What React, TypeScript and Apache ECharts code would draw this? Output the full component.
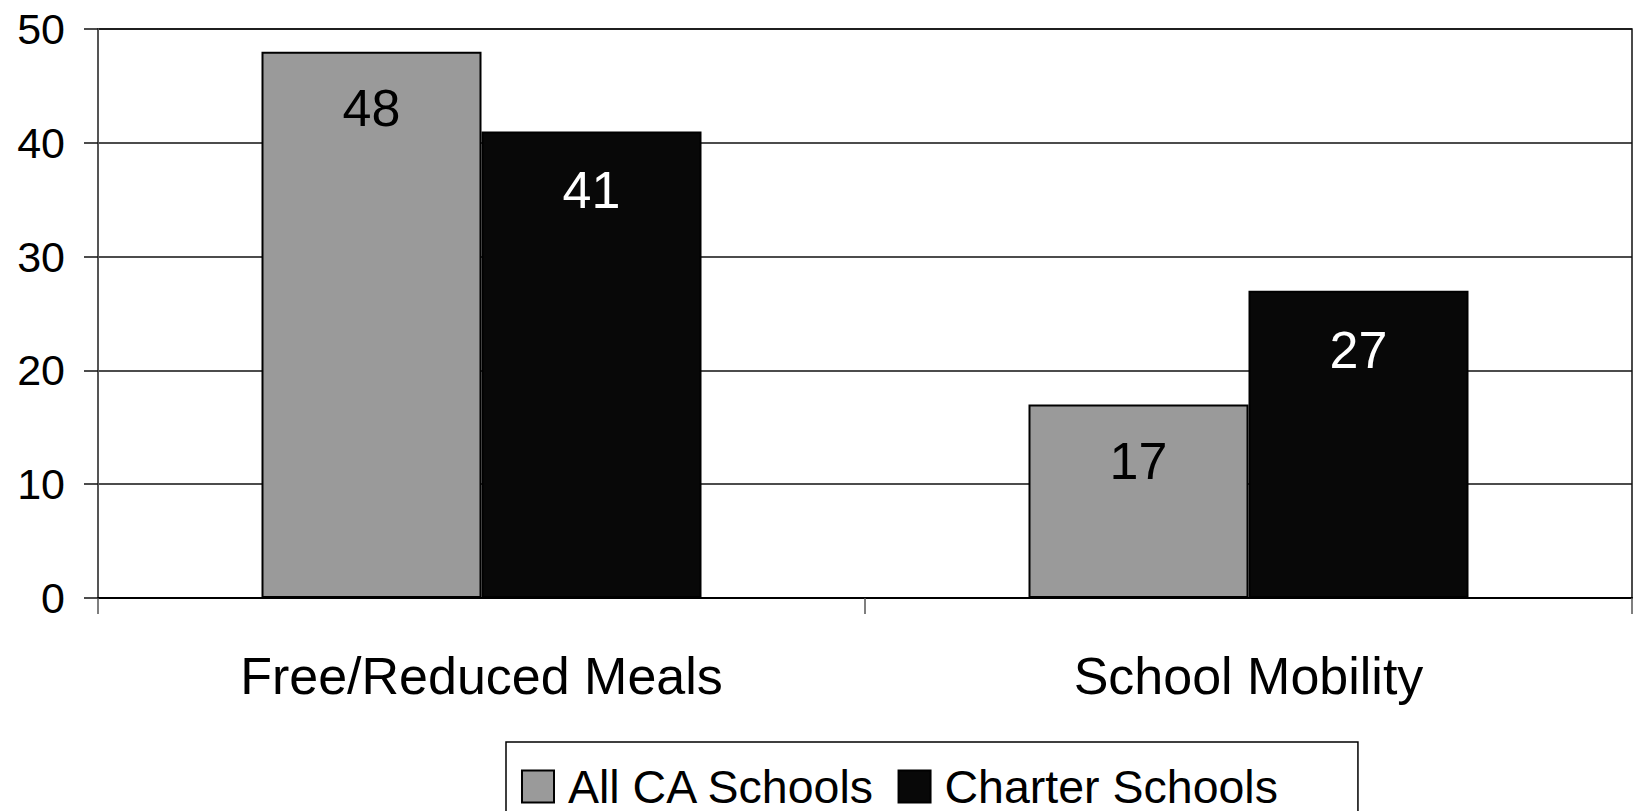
import React, { useEffect, useRef } from "react";
import * as echarts from "echarts";

const categories = ["Free/Reduced Meals", "School Mobility"];
const allCASchools = [48, 17];
const charterSchools = [41, 27];
const seriesNames = ["All CA Schools", "Charter Schools"];
const yTicks = { min: 0, max: 50, interval: 10 };

const FONT = "'Liberation Sans', Arial, sans-serif";

export default function App() {
  const ref = useRef<HTMLDivElement>(null);
  useEffect(() => {
    if (!ref.current) return;
    const chart = echarts.init(ref.current, null, { renderer: "svg" });
    chart.setOption({
      animation: false,
      backgroundColor: "#ffffff",
      textStyle: { fontFamily: FONT },
      grid: {
        left: 98,
        right: 2,
        top: 29,
        bottom: 213,
        show: true,
        borderColor: "#111",
        borderWidth: 1.5,
      },
      legend: {
        left: 506,
        top: 742,
        data: seriesNames,
        icon: "rect",
        itemWidth: 32,
        itemHeight: 32,
        itemGap: 22,
        padding: [21, 80, 30, 15],
        borderColor: "#000",
        borderWidth: 1.5,
        textStyle: {
          fontSize: 46.5,
          color: "#000",
          fontFamily: FONT,
          padding: [0, 0, 0, 9],
        },
      },
      xAxis: {
        type: "category",
        data: categories,
        axisLine: { show: true, lineStyle: { color: "#000", width: 2 } },
        axisTick: { show: true, length: 16, lineStyle: { color: "#555", width: 1.5 } },
        axisLabel: { fontSize: 52, color: "#000", margin: 52, fontFamily: FONT },
        splitLine: { show: false },
      },
      yAxis: {
        type: "value",
        min: yTicks.min,
        max: yTicks.max,
        interval: yTicks.interval,
        axisLine: { show: true, lineStyle: { color: "#555", width: 2 } },
        axisTick: { show: true, length: 14, lineStyle: { color: "#111", width: 1.5 } },
        axisLabel: { fontSize: 43, color: "#000", margin: 33, fontFamily: FONT },
        splitLine: { show: true, lineStyle: { color: "#111", width: 1.5 } },
      },
      series: [
        {
          name: seriesNames[0],
          type: "bar",
          data: allCASchools,
          barWidth: 220,
          barGap: "0%",
          itemStyle: { color: "#9a9a9a", borderColor: "#000", borderWidth: 2 },
          label: {
            show: true,
            position: "insideTop",
            distance: 30,
            fontSize: 52,
            color: "#000",
            fontFamily: FONT,
          },
        },
        {
          name: seriesNames[1],
          type: "bar",
          data: charterSchools,
          barWidth: 220,
          barGap: "0%",
          itemStyle: { color: "#080808", borderColor: "#000", borderWidth: 2 },
          label: {
            show: true,
            position: "insideTop",
            distance: 33,
            fontSize: 52,
            color: "#fff",
            fontFamily: FONT,
          },
        },
      ],
    });
    return () => chart.dispose();
  }, []);
  return (
    <div
      ref={ref}
      style={{ position: "fixed", left: 0, top: 0, width: 1634, height: 811 }}
    />
  );
}
